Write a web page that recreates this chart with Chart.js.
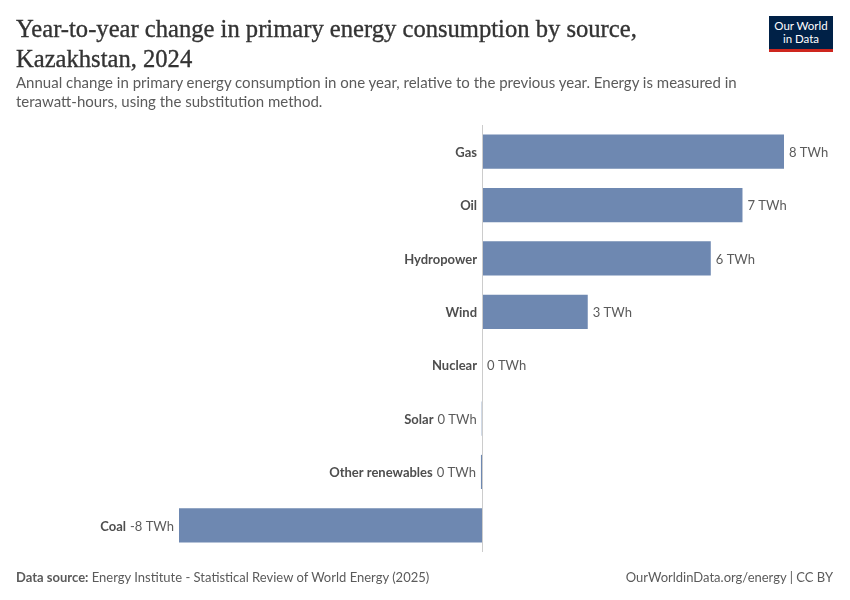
<!DOCTYPE html>
<html>
<head>
<meta charset="utf-8">
<script src="https://cdn.jsdelivr.net/npm/chart.js@4"></script>
<style>
  body { margin: 0; background: #fff; font-family: Lato, sans-serif; }
  #wrap { position: relative; width: 850px; height: 600px; overflow: hidden; }
  #chart { position: absolute; left: 0; top: 0; }
  h1 { position: absolute; left: 16px; top: 14px; margin: 0; width: 700px;
       font-family: "Liberation Serif", serif; font-weight: normal; font-size: 24.6px; line-height: 30px; color: #333;
       -webkit-text-stroke: 0.35px #333; }
  .sub { position: absolute; left: 16px; top: 73px; margin: 0; width: 760px;
         font-size: 15px; line-height: 19px; color: #5b5b5b; }
  .logo { position: absolute; left: 769px; top: 16px; width: 64px; background: #002147;
          border-bottom: 3px solid #ce261e; color: #fff; font-size: 11.5px; line-height: 13px; text-align: center; padding-top: 3px; height: 30px; }
  .foot { position: absolute; top: 569px; font-size: 13px; color: #5b5b5b; }
</style>
</head>
<body>
<div id="wrap">
  <canvas id="chart" width="850" height="600"></canvas>
  <h1>Year-to-year change in primary energy consumption by source,<br>Kazakhstan, 2024</h1>
  <p class="sub">Annual change in primary energy consumption in one year, relative to the previous year. Energy is measured in terawatt-hours, using the substitution method.</p>
  <div class="logo">Our World<br>in Data</div>
  <div class="foot" style="left:16px"><b>Data source:</b> Energy Institute - Statistical Review of World Energy (2025)</div>
  <div class="foot" style="right:17px">OurWorldinData.org/energy | CC BY</div>
</div>
<script>
const sources = ['Gas', 'Oil', 'Hydropower', 'Wind', 'Nuclear', 'Solar', 'Other renewables', 'Coal'];
const changeTWh = [8.0, 6.9, 6.06, 2.8, 0, -0.01, -0.03, -8.03];
const unit = ' TWh';

function fmt(v) {
    return Math.round(v) + unit;
}

const labelPlugin = {
    id: 'barLabels',
    afterDatasetsDraw(chart) {
        const ctx = chart.ctx;
        const x = chart.scales.x;
        const area = chart.chartArea;
        const zero = x.getPixelForValue(0);

        ctx.save();
        ctx.strokeStyle = '#cccccc';
        ctx.lineWidth = 1;
        ctx.beginPath();
        ctx.moveTo(Math.round(zero) + 0.5, area.top);
        ctx.lineTo(Math.round(zero) + 0.5, area.bottom);
        ctx.stroke();

        const meta = chart.getDatasetMeta(0);
        ctx.textBaseline = 'middle';
        meta.data.forEach((bar, i) => {
            const v = changeTWh[i];
            const y = bar.y + 1;
            const end = x.getPixelForValue(v);
            const valText = fmt(v);
            ctx.font = '13px Lato, sans-serif';
            ctx.fillStyle = '#5b5b5b';
            if (v >= 0) {
                ctx.textAlign = 'left';
                ctx.fillText(valText, end + 5, y);
                ctx.font = 'bold 13px Lato, sans-serif';
                ctx.fillStyle = '#4e4e4e';
                ctx.textAlign = 'right';
                ctx.fillText(sources[i], zero - 5, y);
            } else {
                ctx.textAlign = 'right';
                ctx.fillText(valText, end - 5, y);
                const w = ctx.measureText(valText).width;
                ctx.font = 'bold 13px Lato, sans-serif';
                ctx.fillStyle = '#4e4e4e';
                ctx.fillText(sources[i], end - 5 - w - 4, y);
            }
        });
        ctx.restore();
    }
};

new Chart(document.getElementById('chart'), {
    type: 'bar',
    data: {
        labels: sources,
        datasets: [{
            data: changeTWh,
            backgroundColor: '#6e88b1',
            barPercentage: 0.64,
            categoryPercentage: 1
        }]
    },
    options: {
        indexAxis: 'y',
        responsive: false,
        animation: false,
        layout: { padding: { left: 179, right: 66, top: 125, bottom: 48 } },
        plugins: { legend: { display: false }, tooltip: { enabled: false } },
        scales: {
            x: { display: false, min: -8.03, max: 8.0 },
            y: { display: false }
        }
    },
    plugins: [labelPlugin]
});
</script>
</body>
</html>
